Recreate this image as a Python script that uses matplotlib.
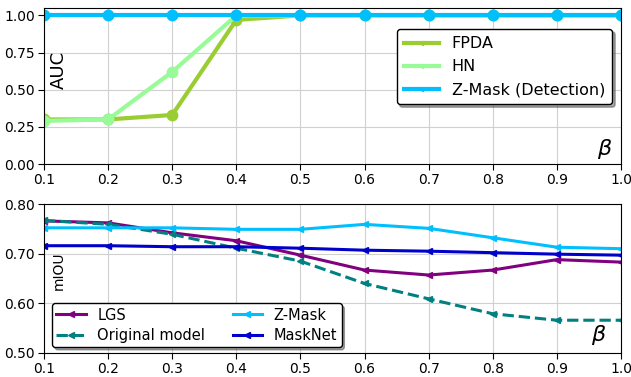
import numpy as np
import matplotlib
matplotlib.use('Agg')
import matplotlib.pyplot as plt

beta = [0.1, 0.2, 0.3, 0.4, 0.5, 0.6, 0.7, 0.8, 0.9, 1.0]

# AUC (top)
fpda = [0.30, 0.30, 0.33, 0.97, 1.0, 1.0, 1.0, 1.0, 1.0, 1.0]
hn = [0.29, 0.30, 0.62, 1.0, 1.0, 1.0, 1.0, 1.0, 1.0, 1.0]
zmask_det = [1.0, 1.0, 1.0, 1.0, 1.0, 1.0, 1.0, 1.0, 1.0, 1.0]

# mIOU (bottom)
lgs = [0.766, 0.762, 0.742, 0.726, 0.697, 0.667, 0.657, 0.667, 0.688, 0.683]
original = [0.767, 0.759, 0.739, 0.711, 0.685, 0.640, 0.609, 0.579, 0.566, 0.566]
zmask = [0.752, 0.752, 0.752, 0.749, 0.749, 0.759, 0.751, 0.732, 0.713, 0.710]
masknet = [0.716, 0.716, 0.714, 0.714, 0.711, 0.707, 0.705, 0.702, 0.699, 0.697]

fig = plt.figure(figsize=(6.31, 3.77), dpi=100)
ax1 = fig.add_axes([44 / 631, 1 - 164 / 377, 577 / 631, 156 / 377])
ax2 = fig.add_axes([44 / 631, 1 - 353 / 377, 577 / 631, 149 / 377])

# top plot
for y, c, lab in [(fpda, '#9ACD32', 'FPDA'), (hn, '#98FB98', 'HN'),
                  (zmask_det, '#00BFFF', 'Z-Mask (Detection)')]:
    ax1.plot(beta, y, color=c, lw=3, marker='<', ms=3, label=lab)
    ax1.plot(beta, y, color=c, lw=0, marker='o', ms=7.5)
ax1.set_xlim(0.1, 1.0)
ax1.set_ylim(0, 1.05)
ax1.set_xticks(beta)
ax1.set_yticks([0, 0.25, 0.5, 0.75, 1.0])
ax1.set_yticklabels(['0.00', '0.25', '0.50', '0.75', '1.00'])
ax1.grid(True, color='#d0d0d0', lw=0.8)
ax1.set_axisbelow(True)
ax1.text(0.025, 0.6, 'AUC', fontsize=13, rotation=90, ha='center', va='center',
         transform=ax1.transAxes)
ax1.text(0.985, 0.02, r'$\beta$', fontsize=16, ha='right', va='bottom',
         transform=ax1.transAxes)
ax1.legend(loc='upper right', bbox_to_anchor=(0.985, 0.865), borderaxespad=0,
           fontsize=11.5, shadow=True, fancybox=True, framealpha=1,
           edgecolor='black', handlelength=2.2, borderpad=0.45, labelspacing=0.5)

# bottom plot
ax2.plot(beta, lgs, color='#800080', lw=2.2, marker='<', ms=4, label='LGS')
ax2.plot(beta, original, color='#008080', lw=2.2, ls='--', marker='<', ms=4,
         label='Original model')
ax2.plot(beta, zmask, color='#00BFFF', lw=2.2, marker='<', ms=4, label='Z-Mask')
ax2.plot(beta, masknet, color='#0000CD', lw=2.2, marker='<', ms=4, label='MaskNet')
ax2.set_xlim(0.1, 1.0)
ax2.set_ylim(0.5, 0.8)
ax2.set_xticks(beta)
ax2.set_yticks([0.5, 0.6, 0.7, 0.8])
ax2.set_yticklabels(['0.50', '0.60', '0.70', '0.80'])
ax2.grid(True, color='#d0d0d0', lw=0.8)
ax2.set_axisbelow(True)
ax2.text(0.026, 0.55, 'mIOU', fontsize=10, rotation=90, ha='center', va='center',
         transform=ax2.transAxes)
ax2.text(0.975, 0.04, r'$\beta$', fontsize=16, ha='right', va='bottom',
         transform=ax2.transAxes)
ax2.legend(loc='lower left', bbox_to_anchor=(0.014, 0.04), borderaxespad=0,
           ncol=2, fontsize=10.5, shadow=True, fancybox=True, framealpha=1,
           edgecolor='black', handlelength=2.0, borderpad=0.3,
           labelspacing=0.35, columnspacing=1.9)

for ax in (ax1, ax2):
    ax.tick_params(labelsize=10, direction='out', length=4, pad=2.5)

fig.savefig('out.png', dpi=100)
